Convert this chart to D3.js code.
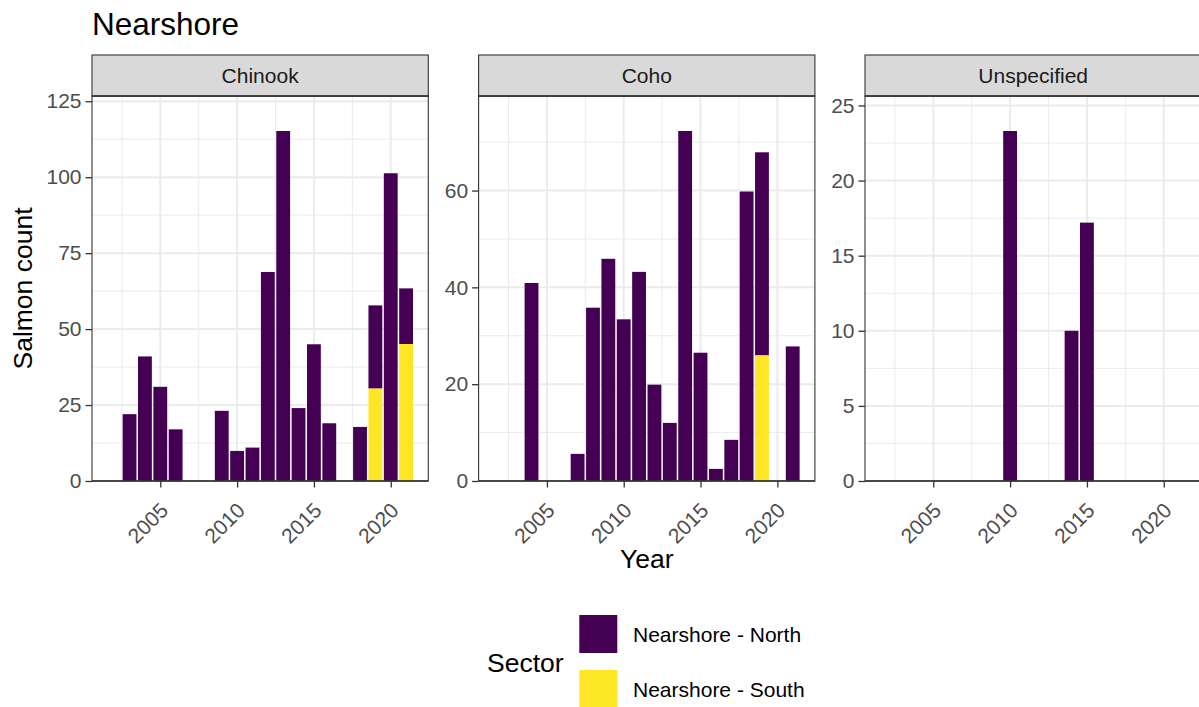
<!DOCTYPE html>
<html><head><meta charset="utf-8">
<script src="https://cdn.jsdelivr.net/npm/d3@7"></script>
<style>body{margin:0;background:#fff}svg{display:block;font-family:"Liberation Sans",Arial,sans-serif}</style>
</head><body><svg id="c" width="1199" height="707"></svg>
<script>
// ---- data ----
const years = [2002,2003,2004,2005,2006,2007,2008,2009,2010,2011,2012,2013,2014,2015,2016,2017,2018,2019,2020,2021];
const species = ["Chinook","Coho","Unspecified"];
const sectors = ["Nearshore - North","Nearshore - South"];
const chinookNorth = [null,22,41,31,17,null,null,23.1,9.9,11,68.8,115.2,24,45,19,null,17.8,27.3,101.3,18.3];
const chinookSouth = [null,null,null,null,null,null,null,null,null,null,null,null,null,null,null,null,null,30.5,null,45.1];
const cohoNorth = [null,null,40.9,null,null,5.6,35.8,45.9,33.4,43.2,19.9,12.0,72.3,26.5,2.5,8.5,59.8,41.9,null,27.8];
const cohoSouth = [null,null,null,null,null,null,null,null,null,null,null,null,null,null,null,null,null,26.0,null,null];
const unspecNorth = [null,null,null,null,null,null,null,null,23.3,null,null,null,10.0,17.2,null,null,null,null,null,null];
const unspecSouth = [null,null,null,null,null,null,null,null,null,null,null,null,null,null,null,null,null,null,null,null];
const chinookTicks = [0,25,50,75,100,125];
const cohoTicks = [0,20,40,60];
const unspecTicks = [0,5,10,15,20,25];
const xTicks = [2005,2010,2015,2020];

const facets = [
  {name:species[0], north:chinookNorth, south:chinookSouth, ticks:chinookTicks},
  {name:species[1], north:cohoNorth, south:cohoSouth, ticks:cohoTicks},
  {name:species[2], north:unspecNorth, south:unspecSouth, ticks:unspecTicks}
];
const colors = {"Nearshore - North":"#440154","Nearshore - South":"#FDE725"};

// ---- layout ----
const svg = d3.select("#c");
const panelLeft = [92, 478.6, 865];
const panelW = 336.3, pTop = 96, pBottom = 481, stripTop = 55;
const font = '"Liberation Sans",Arial,sans-serif';

const bw = 0.9;
const xmin = d3.min(years) - bw/2, xmax = d3.max(years) + bw/2;
const xpad = (xmax - xmin) * 0.05;

svg.append("text").attr("x",92).attr("y",35).attr("font-size",31.5).attr("fill","#000").text("Nearshore");

facets.forEach((f,i) => {
  const x0 = panelLeft[i];
  const g = svg.append("g");
  const x = d3.scaleLinear().domain([xmin - xpad, xmax + xpad]).range([x0, x0 + panelW]);
  const rows = years.map((yr,k) => ({year:yr, north:f.north[k]||0, south:f.south[k]||0}));
  const maxTot = d3.max(rows, r => r.north + r.south);
  const y = d3.scaleLinear().domain([0, maxTot*1.1]).range([pBottom, pTop]);

  const clipId = "clip"+i;
  svg.append("clipPath").attr("id",clipId).append("rect").attr("x",x0).attr("y",pTop).attr("width",panelW).attr("height",pBottom-pTop);
  const pg = g.append("g").attr("clip-path",`url(#${clipId})`);

  // minor grid
  const step = f.ticks[1]-f.ticks[0];
  const yMinor = f.ticks.map(t => t + step/2).concat([f.ticks[0]-step/2]);
  const xMinor = xTicks.map(t => t - 2.5).concat([xTicks[xTicks.length-1]+2.5]);
  pg.selectAll(".ymin").data(yMinor).join("line")
    .attr("x1",x0).attr("x2",x0+panelW).attr("y1",d=>y(d)).attr("y2",d=>y(d))
    .attr("stroke","#EBEBEB").attr("stroke-width",1);
  pg.selectAll(".xmin").data(xMinor).join("line")
    .attr("x1",d=>x(d)).attr("x2",d=>x(d)).attr("y1",pTop).attr("y2",pBottom)
    .attr("stroke","#EBEBEB").attr("stroke-width",1);
  pg.selectAll(".ymaj").data(f.ticks).join("line")
    .attr("x1",x0).attr("x2",x0+panelW).attr("y1",d=>y(d)).attr("y2",d=>y(d))
    .attr("stroke","#EBEBEB").attr("stroke-width",2);
  pg.selectAll(".xmaj").data(xTicks).join("line")
    .attr("x1",d=>x(d)).attr("x2",d=>x(d)).attr("y1",pTop).attr("y2",pBottom)
    .attr("stroke","#EBEBEB").attr("stroke-width",2);

  // bars: South at bottom, North stacked on top
  const stack = d3.stack().keys(["south","north"])(rows);
  stack.forEach(layer => {
    const col = layer.key === "north" ? colors[sectors[0]] : colors[sectors[1]];
    pg.selectAll(null).data(layer.filter(d => d[1] - d[0] > 0)).join("rect")
      .attr("x", d => x(d.data.year - bw/2))
      .attr("width", d => x(d.data.year + bw/2) - x(d.data.year - bw/2))
      .attr("y", d => y(d[1]))
      .attr("height", d => y(d[0]) - y(d[1]))
      .attr("fill", col);
  });

  // panel border
  g.append("rect").attr("x",x0).attr("y",pTop).attr("width",panelW).attr("height",pBottom-pTop)
    .attr("fill","none").attr("stroke","#333333").attr("stroke-width",1.1);
  g.append("line").attr("x1",x0).attr("x2",x0+panelW).attr("y1",pBottom).attr("y2",pBottom)
    .attr("stroke","#333333").attr("stroke-width",1.6);

  // strip
  g.append("rect").attr("x",x0).attr("y",stripTop).attr("width",panelW).attr("height",pTop-stripTop)
    .attr("fill","#D9D9D9").attr("stroke","#333333").attr("stroke-width",1.1);
  g.append("line").attr("x1",x0).attr("x2",x0+panelW).attr("y1",pTop).attr("y2",pTop)
    .attr("stroke","#333333").attr("stroke-width",1.6);
  g.append("text").attr("x",x0+panelW/2).attr("y",(stripTop+pTop)/2).attr("dy","0.36em")
    .attr("text-anchor","middle").attr("font-size",21).attr("fill","#1A1A1A").text(f.name);

  // y axis
  const ya = d3.axisLeft(y).tickValues(f.ticks).tickSize(6.5).tickPadding(4);
  const yg = g.append("g").attr("transform",`translate(${x0},0)`).call(ya);
  yg.select(".domain").remove();
  yg.selectAll(".tick line").attr("stroke","#333333").attr("stroke-width",1.3);
  yg.selectAll(".tick text").attr("font-size",21).attr("fill","#4D4D4D").attr("font-family",font);

  // x axis
  const xa = d3.axisBottom(x).tickValues(xTicks).tickSize(6.5).tickFormat(d3.format("d"));
  const xg = g.append("g").attr("transform",`translate(0,${pBottom})`).call(xa);
  xg.select(".domain").remove();
  xg.selectAll(".tick line").attr("stroke","#333333").attr("stroke-width",1.3);
  xg.selectAll(".tick text").attr("font-size",21).attr("fill","#4D4D4D").attr("font-family",font)
    .attr("text-anchor","end").attr("transform","translate(-2,20) rotate(-45)").attr("y",0).attr("dy","0.72em");
});

// axis titles
svg.append("text").attr("transform","translate(32,288.5) rotate(-90)").attr("text-anchor","middle")
  .attr("font-size",26.5).attr("fill","#000").text("Salmon count");
svg.append("text").attr("x",panelLeft[1]+panelW/2).attr("y",568).attr("text-anchor","middle")
  .attr("font-size",26.5).attr("fill","#000").text("Year");

// legend
const lg = svg.append("g");
lg.append("text").attr("x",487).attr("y",662).attr("dy","0.36em").attr("font-size",26.5).attr("fill","#000").text("Sector");
sectors.forEach((s,k) => {
  const ky = 615 + k*55;
  lg.append("rect").attr("x",579.3).attr("y",ky).attr("width",38).attr("height",38).attr("fill",colors[s]);
  lg.append("text").attr("x",633).attr("y",ky+19).attr("dy","0.36em").attr("font-size",21).attr("fill","#000").text(s);
});
</script></body></html>
